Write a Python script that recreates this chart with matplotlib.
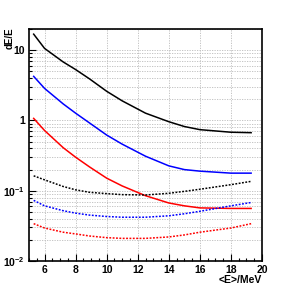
import numpy as np
import matplotlib
matplotlib.use("Agg")
import matplotlib.pyplot as plt
from matplotlib.ticker import FixedLocator, FuncFormatter, MultipleLocator, LogLocator, NullFormatter

plt.rcParams['font.family'] = ['Liberation Sans', 'DejaVu Sans']
plt.rcParams['font.weight'] = 'bold'
plt.rcParams['mathtext.fontset'] = 'custom'
plt.rcParams['mathtext.rm'] = 'Liberation Sans:bold'
plt.rcParams['mathtext.bf'] = 'Liberation Sans:bold'
plt.rcParams['mathtext.it'] = 'Liberation Sans:bold'

# energy points (MeV)
energy = [5.3, 6, 7.2, 8, 8.9, 10, 11, 12.5, 14, 15, 16, 18, 19.3]

# solid curves
black_solid = [16.9, 10.6, 6.8, 5.3, 3.9, 2.6, 1.9, 1.27, 0.96, 0.82, 0.74, 0.68, 0.67]
blue_solid = [4.24, 2.86, 1.72, 1.27, 0.92, 0.62, 0.46, 0.31, 0.226, 0.2, 0.19, 0.178, 0.178]
red_solid = [1.07, 0.72, 0.41, 0.30, 0.218, 0.151, 0.117, 0.085, 0.067, 0.061, 0.057, 0.056, 0.056]

# dotted curves
black_dot = [0.163, 0.143, 0.115, 0.103, 0.095, 0.091, 0.088, 0.087, 0.092, 0.098, 0.105, 0.122, 0.136]
blue_dot = [0.073, 0.061, 0.052, 0.048, 0.045, 0.043, 0.042, 0.042, 0.044, 0.047, 0.051, 0.061, 0.068]
red_dot = [0.034, 0.0295, 0.0257, 0.0243, 0.0227, 0.0215, 0.021, 0.021, 0.022, 0.0235, 0.0257, 0.0295, 0.034]

fig = plt.figure(figsize=(2.91, 2.91), dpi=100)
ax = fig.add_axes([0.0997, 0.103, 0.8006, 0.7973])

lw = 1.1
ax.plot(energy, black_solid, color='black', lw=lw)
ax.plot(energy, blue_solid, color='blue', lw=lw)
ax.plot(energy, red_solid, color='red', lw=lw)
dot = (0, (1.2, 1.0))
ax.plot(energy, black_dot, color='black', lw=lw, linestyle=dot)
ax.plot(energy, blue_dot, color='blue', lw=lw, linestyle=dot)
ax.plot(energy, red_dot, color='red', lw=lw, linestyle=dot)

ax.set_yscale('log')
ax.set_xlim(5, 20)
ax.set_ylim(0.01, 20)

ax.xaxis.set_major_locator(MultipleLocator(2))
ax.xaxis.set_minor_locator(MultipleLocator(0.5))
ax.yaxis.set_major_locator(FixedLocator([0.01, 0.1, 1, 10]))
ax.yaxis.set_minor_locator(LogLocator(base=10, subs=np.arange(2, 10), numticks=20))
ax.yaxis.set_minor_formatter(NullFormatter())

def ylab(v, pos):
    if v >= 1:
        return '%d' % round(v)
    return r'$10^{%d}$' % round(np.log10(v))

ax.yaxis.set_major_formatter(FuncFormatter(ylab))
ax.xaxis.set_major_formatter(FuncFormatter(lambda v, p: '%d' % v if 6 <= v <= 20 else ''))

ax.tick_params(which='both', direction='in', labelsize=7.5, top=False, right=False)
ax.tick_params(which='major', length=5, width=0.8)
ax.tick_params(which='minor', length=2.5, width=0.8)
ax.tick_params(axis='x', pad=3)
ax.tick_params(axis='y', pad=3)

ax.grid(True, which='major', color='#bbbbbb', linestyle=(0, (1.5, 1.5)), lw=0.6)
ax.grid(True, which='minor', axis='y', color='#bbbbbb', linestyle=(0, (1.5, 1.5)), lw=0.6)

for s in ax.spines.values():
    s.set_linewidth(1.2)

fig.text(0.034, 0.905, 'dE/E', rotation=90, ha='center', va='top', fontsize=7, fontweight='bold')
fig.text(0.9, 0.02, '<E>/MeV', ha='right', va='bottom', fontsize=7.5, fontweight='bold')

fig.savefig('out.png', dpi=100)
